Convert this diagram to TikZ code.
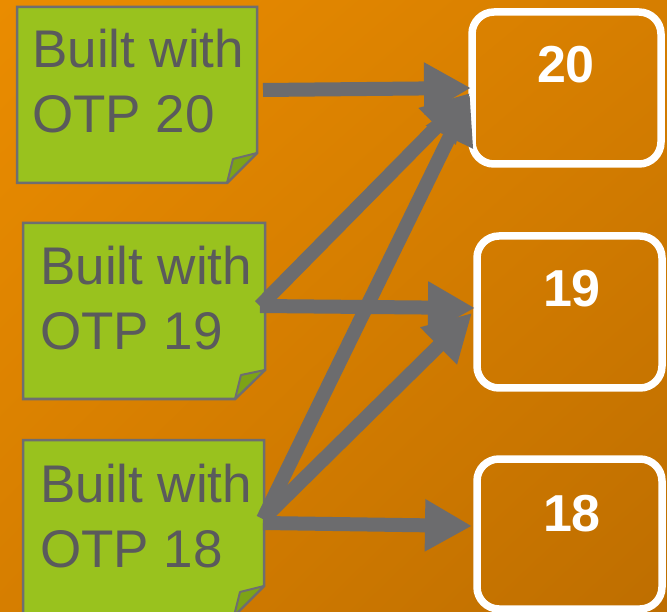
\documentclass[tikz,border=0pt]{standalone}
\usepackage{fontspec}
\setmainfont{Liberation Sans}
\usetikzlibrary{arrows.meta,shadings}
\definecolor{bgA}{RGB}{234,140,0}
\definecolor{bgM}{RGB}{214,126,0}
\definecolor{bgB}{RGB}{190,110,0}
\definecolor{notegreen}{RGB}{153,194,30}
\definecolor{foldgreen}{RGB}{125,163,22}
\definecolor{edgegray}{RGB}{110,110,112}
\definecolor{arrowgray}{RGB}{108,108,110}
\definecolor{textgray}{RGB}{90,90,92}
\begin{document}
\begin{tikzpicture}[x=1pt,y=-1pt,
  notebox/.style={fill=notegreen,draw=edgegray,line width=2.5pt,line join=miter},
  fold/.style={fill=foldgreen,draw=edgegray,line width=2pt,line join=round},
  notetext/.style={anchor=base west,inner sep=0,text=textgray,font=\fontsize{53}{62}\selectfont},
  verbox/.style={draw=white,line width=7.5pt,rounded corners=22pt,minimum width=185pt,minimum height=152pt,inner sep=0},
  vertext/.style={anchor=base,inner sep=0,text=white,font=\fontsize{52}{62}\selectfont\bfseries},
  link/.style={draw=arrowgray,line width=14pt,-{Triangle[length=47pt,width=49pt]}}]
\useasboundingbox (0,0) rectangle (667,612);
\clip (0,0) rectangle (667,612);
\shade[upper left=bgA,upper right=bgM,lower left=bgM,lower right=bgB] (0,0) rectangle (667,612);

% notes
\path[notebox] (17,7) -- (257,7) -- (257,153) -- (227,183) -- (17,183) -- cycle;
\path[fold] (227,183) -- (233,159) -- (257,153) -- cycle;
\path[notebox] (23,223) -- (265,223) -- (265,370) -- (235,399) -- (23,399) -- cycle;
\path[fold] (235,399) -- (241,375) -- (265,370) -- cycle;
\path[notebox] (23,440) -- (264,440) -- (264,586) -- (234,616) -- (23,616) -- cycle;
\path[fold] (234,616) -- (240,592) -- (264,586) -- cycle;

\node[notetext] (n1a) at (32,68) {Built with};
\node[notetext] (n1b) at (32,133) {OTP 20};
\node[notetext] (n2a) at (40,285) {Built with};
\node[notetext] (n2b) at (40,350) {OTP 19};
\node[notetext] (n3a) at (40,502) {Built with};
\node[notetext] (n3b) at (40,567) {OTP 18};

% version boxes
\node[verbox,minimum width=189pt] (b20) at (566.5,88) {};
\node[verbox] (b19) at (569.5,312) {};
\node[verbox,minimum height=150pt] (b18) at (569.5,534) {};
\node[vertext] (t20) at (566,83) {20};
\node[vertext] (t19) at (572,307) {19};
\node[vertext] (t18) at (572,531) {18};

% connector ends
\coordinate (s1) at (263,90);
\coordinate (s2) at (260,306);
\coordinate (s3) at (263,519);
\coordinate (s3h) at (263,523);
\coordinate (e20a) at (471,88);
\coordinate (e20b) at (470,93);
\coordinate (e20c) at (470,95);
\coordinate (e19a) at (475,308);
\coordinate (e19b) at (472,313);
\coordinate (e18) at (472,526);

\draw[link] (s1) -- (e20a);
\draw[link] (s2) -- (e20b);
\draw[link] (s2) -- (e19a);
\draw[link] (s3) -- (e20c);
\draw[link] (s3) -- (e19b);
\draw[link] (s3h) -- (e18);
\end{tikzpicture}
\end{document}
